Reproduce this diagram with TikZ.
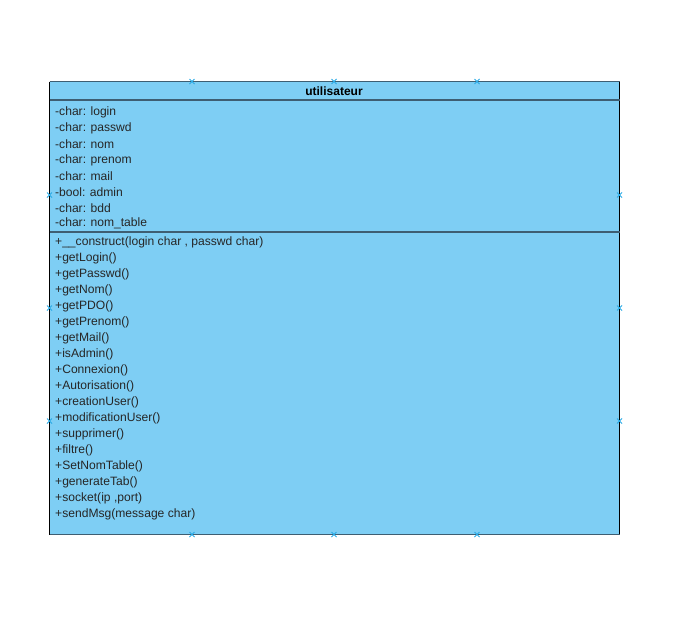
\documentclass[tikz,border=0pt]{standalone}
\usepackage{fontspec}
\setmainfont{Liberation Sans}
\definecolor{boxfill}{RGB}{126,206,244}
\definecolor{hline}{RGB}{62,94,114}
\definecolor{mark}{RGB}{41,170,230}
\tikzset{
  member/.style={anchor=west, inner sep=0pt, font=\fontsize{12.1}{14}\selectfont, text=black!85},
  title/.style={inner sep=0pt, font=\bfseries\fontsize{12}{14}\selectfont},
  sep/.style={draw=hline, line width=1.2pt},
  side/.style={draw=black, line width=1pt},
  xmark/.style={draw=mark, line width=1pt}
}
\newcommand{\xm}[2]{\draw[xmark] (#1-2.5,#2-2.5) -- (#1+2.5,#2+2.5) (#1-2.5,#2+2.5) -- (#1+2.5,#2-2.5);}
\begin{document}
\begin{tikzpicture}[x=1pt,y=-1pt]
\useasboundingbox (0,0) rectangle (684,619);
\fill[boxfill] (49.5,81.5) rectangle (619.5,534.5);
\coordinate (tl) at (49.5,81.5);
\coordinate (tr) at (619.5,81.5);
\coordinate (bl) at (49.5,534.5);
\coordinate (br) at (619.5,534.5);
\draw[side] (tl) -- (bl) (tr) -- (br);
\draw[sep] (tl) -- (tr) (bl) -- (br);
\draw[sep] (49.5,100) -- (619.5,100);
\draw[sep] (49.5,232) -- (619.5,232);
\node[title] (t) at (334,91.5) {utilisateur};
\foreach \txt [count=\i from 0] in {-char: login,-char: passwd,-char: nom,-char: prenom,-char: mail,-bool: admin,-char: bdd,-char: nom\_table}
  \node[member] (a\i) at (55,112.5+15.9*\i) {\txt};
\foreach \txt [count=\i from 0] in {+\_\_construct(login char {,} passwd char),+getLogin(),+getPasswd(),+getNom(),+getPDO(),+getPrenom(),+getMail(),+isAdmin(),+Connexion(),+Autorisation(),+creationUser(),+modificationUser(),+supprimer(),+filtre(),+SetNomTable(),+generateTab(),+socket(ip {,}port),+sendMsg(message char)}
  \node[member] (m\i) at (55,242.5+16*\i) {\txt};
\xm{192}{81.5}\xm{334}{81.5}\xm{477}{81.5}
\xm{192}{534.5}\xm{334}{534.5}\xm{477}{534.5}
\xm{49.5}{195}\xm{49.5}{308}\xm{49.5}{421}
\xm{619.5}{195}\xm{619.5}{308}\xm{619.5}{421}
\end{tikzpicture}
\end{document}
